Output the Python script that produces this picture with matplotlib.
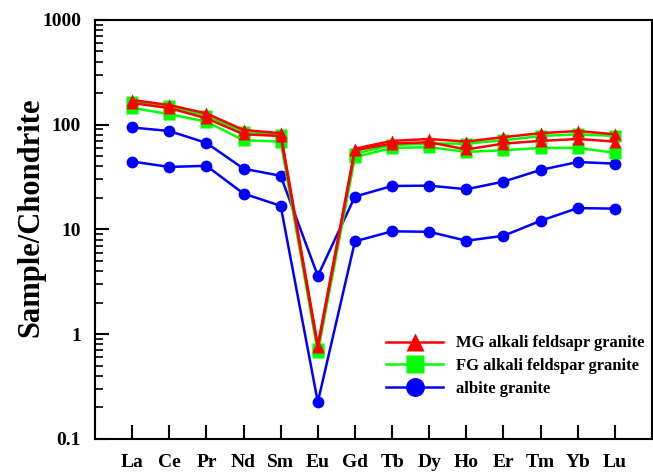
import numpy as np
import matplotlib as mpl
mpl.use('Agg')
import matplotlib.pyplot as plt
from matplotlib.ticker import LogLocator, NullFormatter, FixedFormatter, FixedLocator

plt.rcParams['font.family'] = ['Liberation Serif', 'DejaVu Serif']
plt.rcParams['font.weight'] = 'bold'

# REE elements (chondrite-normalised)
elements = ["La", "Ce", "Pr", "Nd", "Sm", "Eu", "Gd", "Tb", "Dy", "Ho", "Er", "Tm", "Yb", "Lu"]

# MG alkali feldspar granite (2 samples)
mg1 = [172, 154, 128, 89, 83, 0.78, 59, 70, 73, 69, 76, 83, 87, 81]
mg2 = [161, 144, 115, 81, 78, 0.75, 57, 66, 68, 58, 66, 70, 73, 69]
# FG alkali feldspar granite (2 samples)
fg1 = [166, 150, 121, 86, 80, 0.72, 53, 64, 66, 66, 71, 78, 81, 78]
fg2 = [145, 126, 107, 71, 69, 0.67, 49, 60, 61, 55, 57, 60, 60, 54]
# albite granite (2 samples)
ab1 = [94, 87, 67, 38, 32.5, 3.6, 20.6, 26, 26.2, 24.2, 28.6, 37, 44, 42.5]
ab2 = [44.5, 39.5, 40.5, 22, 16.8, 0.225, 7.7, 9.6, 9.5, 7.8, 8.7, 12.1, 16, 15.8]

x = np.arange(1, len(elements) + 1)

fig = plt.figure(figsize=(6.53, 4.73), dpi=100)
ax = fig.add_axes([0.1455, 0.0719, 0.853, 0.886])

kw = dict(lw=1.8, ms=8.5, mec='none')
hb, = ax.plot(x, ab1, color='#0000ff', marker='o', label='albite granite', **kw)
ax.plot(x, ab2, color='#0000ff', marker='o', **kw)
hg, = ax.plot(x, fg1, color='#00ff00', marker='s', label='FG alkali feldspar granite', **kw)
ax.plot(x, fg2, color='#00ff00', marker='s', **kw)
hr, = ax.plot(x, mg1, color='#ff0000', marker='^', label='MG alkali feldsapr granite', **kw)
ax.plot(x, mg2, color='#ff0000', marker='^', **kw)

ax.set_yscale('log')
ax.set_ylim(0.1, 1000)
ax.set_xlim(0, 15)

ax.xaxis.set_major_locator(FixedLocator(x))
ax.set_xticklabels(elements)
ax.yaxis.set_major_locator(FixedLocator([0.1, 1, 10, 100, 1000]))
ax.yaxis.set_major_formatter(FixedFormatter(['0.1', '1', '10', '100', '1000']))
ax.yaxis.set_minor_locator(LogLocator(base=10, subs=np.arange(2, 10), numticks=10))
ax.yaxis.set_minor_formatter(NullFormatter())

ax.tick_params(axis='both', which='major', direction='in', length=10, width=1.5,
               labelsize=14, pad=10)
ax.tick_params(axis='x', which='major', pad=11)
ax.tick_params(axis='y', which='minor', direction='in', length=6, width=1.2)
ax.tick_params(top=False, right=False, which='both')
for lab in ax.get_xticklabels() + ax.get_yticklabels():
    lab.set_fontweight('bold')

for sp in ax.spines.values():
    sp.set_linewidth(1.5)

ax.set_ylabel('Sample/Chondrite', fontsize=22, fontweight='bold')
ax.yaxis.set_label_coords(-0.089, 0.53)

leg = ax.legend(handles=[hr, hg, hb], loc='lower right', frameon=False,
                fontsize=12, handlelength=3.4, markerscale=1.6,
                bbox_to_anchor=(1.014, 0.065), labelspacing=0.4)
for t in leg.get_texts():
    t.set_fontweight('bold')

fig.savefig('out.png', dpi=100)
